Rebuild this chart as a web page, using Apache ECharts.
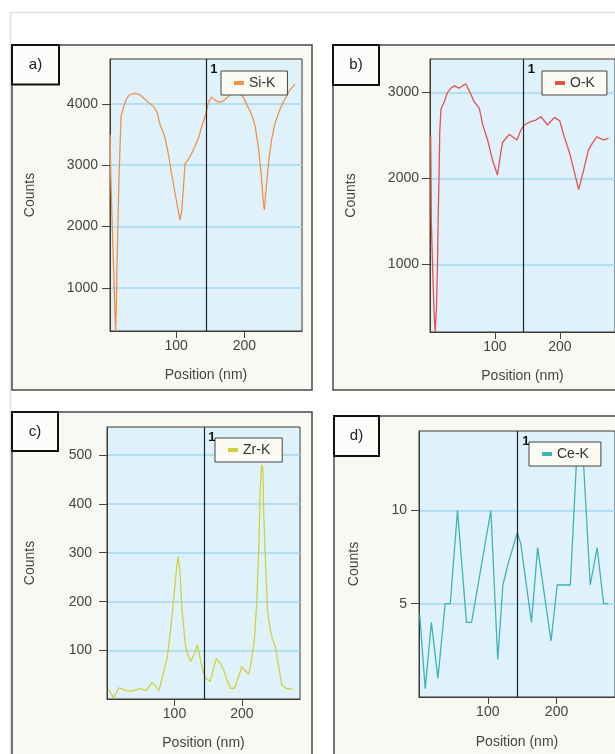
<!DOCTYPE html>
<html><head><meta charset="utf-8">
<script src="https://cdn.jsdelivr.net/npm/echarts@6/dist/echarts.min.js"></script>
<style>html,body{margin:0;padding:0;background:#fff;}#c{width:615px;height:754px;}</style>
</head><body><div id="c"></div>
<script>
// ---- data ----
const siPos = [3, 4, 6, 8, 10, 11, 12, 13, 14.5, 16, 19, 23, 27, 31, 36, 41, 46, 52, 57, 62, 67, 72, 76, 80, 84, 88, 93, 98, 103, 105.5, 108, 110.5, 113, 118, 123, 128, 133, 138, 143.5, 147, 152, 157, 162, 169, 176, 182, 188, 194, 199, 205, 211, 216, 220.5, 223, 225.5, 228, 229.5, 231.5, 233.5, 236, 240, 245, 252, 259, 267, 274.5];
const siCounts = [3500, 2800, 2060, 1340, 640, 300, 640, 1340, 2060, 2800, 3790, 3960, 4080, 4140, 4165, 4170, 4150, 4095, 4045, 4000, 3950, 3860, 3670, 3560, 3430, 3210, 2880, 2560, 2260, 2105, 2250, 2620, 3020, 3100, 3200, 3320, 3450, 3650, 3830, 4016, 4109, 4060, 4027, 4043, 4114, 4180, 4220, 4170, 4097, 3957, 3820, 3630, 3304, 3050, 2761, 2381, 2272, 2544, 2800, 3087, 3413, 3685, 3902, 4065, 4228, 4321];

const oPos = [1, 1.5, 2, 4, 6, 8, 10, 11.5, 12.5, 14, 15, 17, 22, 27, 33, 38, 45, 50, 55, 61, 68, 76, 81, 89, 96, 104, 109, 112, 122, 127, 134, 140, 145, 155, 163, 171, 181, 188, 192, 200, 206, 211, 216, 221, 229, 237, 244, 250, 257, 262, 267, 275];
const oCounts = [2500, 2050, 1500, 990, 490, 215, 490, 990, 1500, 2050, 2540, 2810, 2890, 3000, 3054, 3075, 3047, 3075, 3100, 3008, 2891, 2814, 2630, 2440, 2220, 2039, 2300, 2420, 2512, 2484, 2446, 2562, 2620, 2659, 2678, 2717, 2620, 2678, 2709, 2667, 2504, 2388, 2271, 2116, 1870, 2105, 2329, 2407, 2484, 2465, 2446, 2465];

const zrPos = [2, 10, 18, 28, 38, 48, 58, 67, 77, 84, 89, 94, 99, 103, 105.5, 108, 111, 116, 120, 124, 131, 134, 138, 143, 147, 153, 158, 162, 167, 173, 177, 183, 189, 194, 200, 206, 210, 214, 218.5, 222, 225, 227, 229, 231, 232, 235, 238, 241.5, 245, 250, 254, 259, 265, 270, 275];
const zrCounts = [20, 4, 24, 18, 17, 22, 18, 35, 18, 57, 84, 139, 207, 268, 292, 262, 187, 112, 91, 78, 98, 112, 84, 54, 43, 37, 64, 84, 76, 60, 43, 23, 23, 43, 67, 57, 52, 78, 125, 200, 316, 425, 480, 473, 391, 275, 180, 146, 125, 105, 71, 30, 23, 21, 22];

const cePos = [1, 9, 18, 27.5, 38, 45.5, 56, 69, 76.5, 104.5, 114.5, 122, 130, 143, 148, 163.5, 172.5, 192, 201, 220, 229.5, 238.5, 249, 259, 268.5, 275];
const ceCounts = [4.4, 0.45, 4, 1, 5, 5, 10, 4, 4, 10, 2, 6, 7.2, 8.8, 8.2, 4, 8, 3, 6, 6, 13, 13, 6, 8, 5, 5];

const seriesNames = ['Si-K', 'O-K', 'Zr-K', 'Ce-K'];
const panelTags = ['a)', 'b)', 'c)', 'd)'];
const cursorX = 143.5;
const cursorLabel = '1';
const xTickValues = [100, 200];
const yTicksA = [1000, 2000, 3000, 4000];
const yTicksB = [1000, 2000, 3000];
const yTicksC = [100, 200, 300, 400, 500];
const yTicksD = [5, 10];
const xName = 'Position (nm)';
const yName = 'Counts';

// ---- layout / style ----
const FONT = 'Liberation Sans, Arial, sans-serif';
const colors = ['#f1924a', '#e8504e', '#cfd23c', '#42b3b3'];
const panels = [
  {pos: siPos, val: siCounts, yt: yTicksA, frame: [12, 45, 300, 345], tag: [12, 45, 47, 39.5],
   grid: {left: 110, top: 59, width: 192, height: 272}, xr: [2.8, 284.7], yr: [300, 4730],
   legend: [221, 71], yGap: 73, yMargin: 12, xGap: 37},
  {pos: oPos, val: oCounts, yt: yTicksB, frame: [333, 45, 300, 345], tag: [333, 45, 46, 40],
   grid: {left: 430, top: 59, width: 186.5, height: 273}, xr: [0, 285], yr: [215, 3387],
   legend: [542, 71], yGap: 72, yMargin: 11, xGap: 37},
  {pos: zrPos, val: zrCounts, yt: yTicksC, frame: [12, 412, 300, 400], tag: [12, 412, 46, 39],
   grid: {left: 107, top: 427, width: 193, height: 272}, xr: [0, 286], yr: [1, 557],
   legend: [215, 438], yGap: 70, yMargin: 15, xGap: 37},
  {pos: cePos, val: ceCounts, yt: yTicksD, frame: [334, 416, 300, 400], tag: [334, 416, 45, 40],
   grid: {left: 419, top: 431, width: 197, height: 266}, xr: [0, 285], yr: [0, 14.25],
   legend: [529, 442], yGap: 58, yMargin: 12, xGap: 38}
];

const plain = v => String(v);
const grid = [], xAxis = [], yAxis = [], series = [], legend = [];
const graphic = [{type: 'rect', z: -20, shape: {x: 10.5, y: 12.5, width: 700, height: 800},
  style: {fill: '#ffffff', stroke: '#dedede', lineWidth: 1.5}}];

panels.forEach((p, i) => {
  grid.push(Object.assign({show: true, backgroundColor: '#dff1fb', borderColor: '#3a3a3a', borderWidth: 1}, p.grid));
  xAxis.push({
    type: 'value', gridIndex: i, min: p.xr[0], max: p.xr[1],
    name: xName, nameLocation: 'middle', nameGap: p.xGap,
    nameTextStyle: {fontSize: 14, color: '#444', fontFamily: FONT},
    axisLine: {show: true, onZero: false, lineStyle: {color: '#3a3a3a', width: 1}},
    axisTick: {show: true, length: 7, customValues: xTickValues, lineStyle: {color: '#444'}},
    axisLabel: {show: true, margin: 8, customValues: xTickValues, formatter: plain, fontSize: 14, color: '#444', fontFamily: FONT},
    splitLine: {show: false}
  });
  yAxis.push({
    type: 'value', gridIndex: i, min: p.yr[0], max: p.yr[1],
    name: yName, nameLocation: 'middle', nameGap: p.yGap,
    nameTextStyle: {fontSize: 14, color: '#444', fontFamily: FONT},
    axisLine: {show: true, onZero: false, lineStyle: {color: '#3a3a3a', width: 1}},
    axisTick: {show: true, length: 8, customValues: p.yt, lineStyle: {color: '#444'}},
    axisLabel: {show: true, margin: p.yMargin, customValues: p.yt, formatter: plain, fontSize: 14, color: '#444', fontFamily: FONT},
    splitLine: {show: true, lineStyle: {color: '#a3d7f0', width: 1.6}}
  });
  series.push({
    name: seriesNames[i], type: 'line', xAxisIndex: i, yAxisIndex: i,
    data: p.pos.map((x, k) => [x, p.val[k]]),
    showSymbol: false, symbol: 'none', clip: true, animation: false,
    lineStyle: {color: colors[i], width: 1.3}, itemStyle: {color: colors[i]},
    emphasis: {disabled: true},
    markLine: {silent: true, symbol: ['none', 'none'], animation: false, label: {show: false},
      lineStyle: {color: '#222', width: 1.2, type: 'solid'}, data: [{xAxis: cursorX}]},
    markPoint: {silent: true, animation: false, data: [{coord: [cursorX, p.yr[1]], symbol: 'rect', symbolSize: 1,
      itemStyle: {color: 'rgba(0,0,0,0)'},
      label: {show: true, formatter: cursorLabel, position: [5, 4], color: '#111', fontWeight: 'bold', fontSize: 13, fontFamily: FONT}}]}
  });
  legend.push({
    data: [seriesNames[i]], left: p.legend[0], top: p.legend[1], icon: 'rect',
    itemWidth: 10, itemHeight: 4, padding: [5, 12, 5, 13], selectedMode: false,
    backgroundColor: '#fbfbf4', borderColor: '#444', borderWidth: 1,
    textStyle: {fontSize: 14, color: '#333', fontFamily: FONT}
  });
  const f = p.frame, t = p.tag;
  graphic.push({type: 'rect', z: -10, shape: {x: f[0], y: f[1], width: f[2], height: f[3]},
    style: {fill: '#f9f9f3', stroke: '#4a4a4a', lineWidth: 1.5}});
  graphic.push({type: 'rect', z: 10, shape: {x: t[0], y: t[1], width: t[2], height: t[3]},
    style: {fill: '#fcfcfa', stroke: '#111', lineWidth: 2}});
  graphic.push({type: 'text', z: 11, x: t[0] + t[2] / 2, y: t[1] + t[3] / 2,
    style: {text: panelTags[i], font: '15px ' + FONT, fill: '#222', textAlign: 'center', textVerticalAlign: 'middle', align: 'center', verticalAlign: 'middle'}});
});

const chart = echarts.init(document.getElementById('c'), null, {renderer: 'canvas', width: 615, height: 754});
chart.setOption({backgroundColor: '#ffffff', animation: false, grid, xAxis, yAxis, series, legend, graphic});
</script>
</body></html>
